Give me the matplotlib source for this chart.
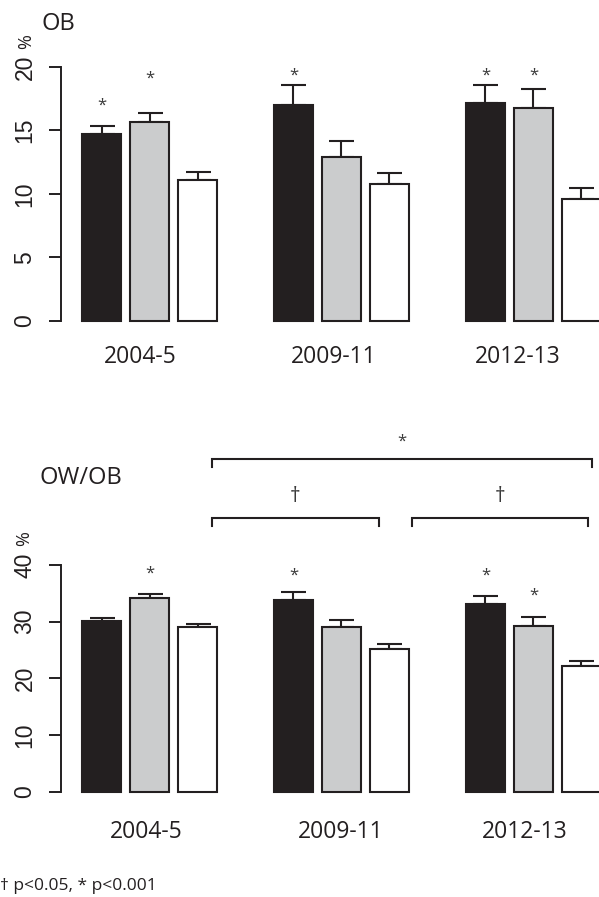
import numpy as np
import matplotlib
matplotlib.use("Agg")
from matplotlib import pyplot as plt

# data
groups = ['2004-5', '2009-11', '2012-13']

ob_black = [14.7, 17.0, 17.2]
ob_gray = [15.7, 12.9, 16.8]
ob_white = [11.1, 10.8, 9.6]
ob_black_err = [0.63, 1.55, 1.41]
ob_gray_err = [0.71, 1.31, 1.5]
ob_white_err = [0.6, 0.86, 0.84]

owob_black = [30.1, 33.8, 33.2]
owob_gray = [34.1, 29.1, 29.3]
owob_white = [29.1, 25.2, 22.1]
owob_black_err = [0.6, 1.4, 1.4]
owob_gray_err = [0.8, 1.25, 1.5]
owob_white_err = [0.55, 0.8, 0.95]

# significance stars: (group, bar, height)
ob_stars = [(0, 0, 17.4), (0, 1, 19.5), (1, 0, 19.76), (2, 0, 19.76), (2, 1, 19.76)]
owob_stars = [(0, 1, 39.5), (1, 0, 39.1), (2, 0, 39.1), (2, 1, 35.6)]

# brackets between groups: (x start, x end, top, bottom, mark, mark height)
owob_brackets = [(2.30, 10.22, 58.7, 57.35, '*', 61.7),
                 (2.30, 5.78, 48.35, 46.8, '\u2020', 52.0),
                 (6.46, 10.13, 48.35, 46.8, '\u2020', 52.0)]

dark = '#231f20'
bar_colors = [dark, '#cbcccd', 'white']
txt_font = ['Open Sans', 'DejaVu Sans']
num_font = ['Liberation Sans', 'DejaVu Sans']


def draw_panel(ax, series, errs, ymax, step, title, title_xy, pct_xy, stars,
               label_y, label_dx):
    for i, (vals, err, col) in enumerate(zip(series, errs, bar_colors)):
        x = np.arange(len(groups)) * 4 + i
        ax.bar(x, vals, width=0.83, color=col, edgecolor=dark, linewidth=1.5,
               clip_on=False, zorder=2)
        ax.errorbar(x, vals, yerr=[np.zeros(len(vals)), err], fmt='none',
                    ecolor=dark, elinewidth=1.5, capsize=9, capthick=1.5,
                    clip_on=False, zorder=1)
    for g, b, y in stars:
        ax.annotate('*', (g * 4 + b, y), xytext=(0, -7), textcoords='offset points',
                    ha='center', va='baseline', fontsize=12, color='#3a3a3a',
                    family=txt_font, annotation_clip=False)
    for g, name in enumerate(groups):
        ax.text(g * 4 + 1 + label_dx[g], label_y, name, ha='center', va='center',
                fontsize=16.5, color=dark, family=txt_font, clip_on=False)

    ax.set_xlim(-0.844, 10.365)
    ax.set_ylim(0, ymax)
    ax.set_yticks(np.arange(0, ymax + 1, step))
    ax.set_yticklabels([str(v) for v in np.arange(0, ymax + 1, step)],
                       rotation=90, va='center', family=num_font, fontsize=16.5,
                       color=dark)
    ax.tick_params(axis='y', length=8.6, width=1.4, color=dark, pad=9)
    ax.set_xticks([])
    for s in ['top', 'right', 'bottom']:
        ax.spines[s].set_visible(False)
    ax.spines['left'].set_bounds(0, ymax)
    ax.spines['left'].set_linewidth(1.4)
    ax.spines['left'].set_color(dark)
    ax.patch.set_alpha(0)

    fig.text(title_xy[0] / 599, 1 - title_xy[1] / 897, title, ha='center',
             va='center', fontsize=17, color=dark, family=txt_font)
    fig.text(pct_xy[0] / 599, 1 - pct_xy[1] / 897, '%', ha='center', va='center',
             rotation=90, fontsize=13, color=dark, family=txt_font)


fig = plt.figure(figsize=(5.99, 8.97), dpi=100)

ax1 = fig.add_axes([61 / 599, (897 - 321) / 897, 538 / 599, 254 / 897])
draw_panel(ax1, [ob_black, ob_gray, ob_white],
           [ob_black_err, ob_gray_err, ob_white_err], 20, 5, 'OB', (58, 24),
           (26, 42), ob_stars, -2.83, [-0.2, -0.17, -0.33])

ax2 = fig.add_axes([61 / 599, (897 - 791.7) / 897, 538 / 599, 226.7 / 897])
draw_panel(ax2, [owob_black, owob_gray, owob_white],
           [owob_black_err, owob_gray_err, owob_white_err], 40, 10, 'OW/OB',
           (81, 478), (24, 539), owob_stars, -7.06, [-0.07, -0.01, -0.18])

for x0, x1, top, bot, mark, my in owob_brackets:
    ax2.plot([x0, x0, x1, x1], [bot, top, top, bot], color=dark, lw=1.5,
             clip_on=False, solid_joinstyle='miter')
    ax2.text((x0 + x1) / 2, my, mark, ha='center', va='center',
             fontsize=12 if mark == '*' else 15, color='#3a3a3a',
             family=txt_font, clip_on=False)

fig.text(0.0, 1 - 886 / 897, '\u2020 p<0.05, * p<0.001', ha='left', va='center',
         fontsize=12.5, color=dark, family=txt_font)

fig.savefig('out.png', dpi=100)
